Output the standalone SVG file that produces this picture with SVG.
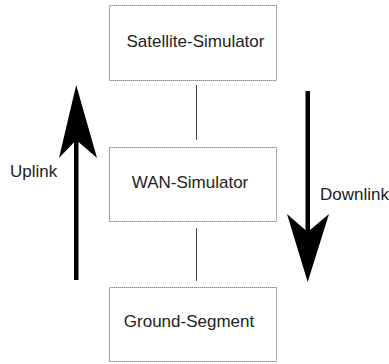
<svg xmlns="http://www.w3.org/2000/svg" width="389" height="364" viewBox="0 0 389 364">
<style>
.box{fill:#fff;stroke:#888;stroke-width:1;stroke-dasharray:1.5 0.5}
.t{font-family:"Liberation Sans",Arial,sans-serif;font-size:17px;fill:#222}
.ln{stroke:#444;stroke-width:1;fill:none}
</style>
<rect width="389" height="364" fill="#fff"/>
<g id="connectors">
<line class="ln" x1="196.5" y1="85" x2="196.5" y2="140"/>
<line class="ln" x1="196.5" y1="228" x2="196.5" y2="281"/>
<g id="uplink">
<rect x="74" y="135" width="4.5" height="145" fill="#000"/>
<polygon points="76.2,85 97,158 76.2,140 59,158" fill="#000"/>
</g>
<g id="downlink">
<rect x="305.5" y="91" width="4.5" height="145" fill="#000"/>
<polygon points="307.7,282 287,214 307.7,232 329,214" fill="#000"/>
</g>
</g>
<g id="satellite"><rect class="box" x="109.5" y="5.5" width="167" height="75"/><text class="t" x="195.5" y="47" text-anchor="middle">Satellite-Simulator</text></g>
<g id="wan"><rect class="box" x="109.5" y="147.5" width="167" height="74"/><text class="t" x="190" y="188" text-anchor="middle">WAN-Simulator</text></g>
<g id="ground"><rect class="box" x="109.5" y="287.5" width="167" height="74"/><text class="t" x="189" y="327" text-anchor="middle">Ground-Segment</text></g>
<text class="t" x="10" y="177">Uplink</text>
<text class="t" x="320" y="200">Downlink</text>
</svg>
